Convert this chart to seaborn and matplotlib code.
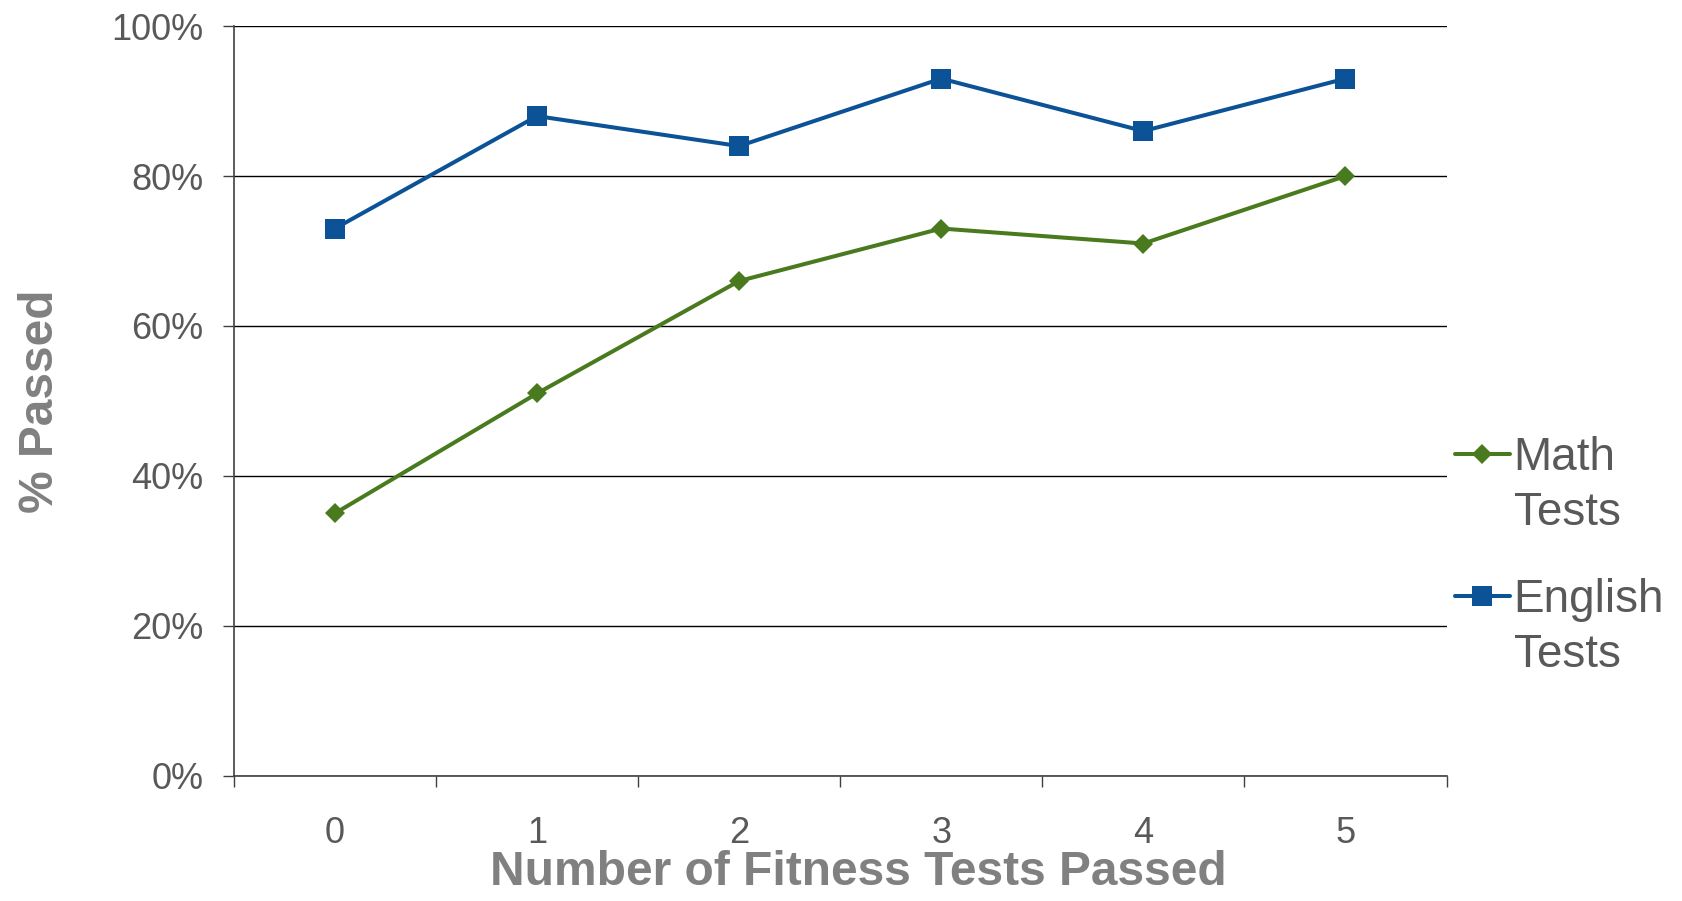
import seaborn as sns
import matplotlib.pyplot as plt
import pandas as pd

# Data
tests_passed = [0, 1, 2, 3, 4, 5]
math_pct = [35, 51, 66, 73, 71, 80]
english_pct = [73, 88, 84, 93, 86, 93]
y_ticks = [0, 20, 40, 60, 80, 100]

df = pd.DataFrame({'Tests': tests_passed, 'Math': math_pct, 'English': english_pct})

sns.set_style("white")
plt.rcParams['font.family'] = ['Liberation Sans', 'DejaVu Sans']

fig, ax = plt.subplots(figsize=(16.82, 9.01), dpi=100)
fig.subplots_adjust(left=0.139, right=0.860, top=0.971, bottom=0.139)

green = '#4a7a1e'
blue = '#0b5396'
text_gray = '#595959'
title_gray = '#808080'

sns.lineplot(data=df, x='Tests', y='Math', ax=ax, color=green, lw=2.9,
             marker='D', markersize=10.5, markeredgewidth=0, legend=False)
sns.lineplot(data=df, x='Tests', y='English', ax=ax, color=blue, lw=2.9,
             marker='s', markersize=14, markeredgewidth=0, legend=False)

# y axis
ax.set_ylim(0, 100)
ax.set_yticks(y_ticks)
ax.set_yticklabels([f'{v}%' for v in y_ticks])
ax.yaxis.grid(True, color='#000000', lw=1.0)
ax.tick_params(axis='y', left=True, length=8, width=1, color='#404040',
               labelsize=26, labelcolor=text_gray, pad=14)

# x axis: ticks between categories, labels centered
ax.set_xlim(-0.5, 5.5)
ax.set_xticks([x - 0.5 for x in tests_passed] + [5.5])
ax.set_xticklabels([])
ax.set_xticks(tests_passed, minor=True)
ax.set_xticklabels([str(x) for x in tests_passed], minor=True)
ax.tick_params(axis='x', which='major', bottom=True, length=8, width=1,
               color='#404040', direction='out')
ax.tick_params(axis='x', which='minor', bottom=True, length=0, labelsize=26,
               labelcolor=text_gray, pad=29)

for side in ['top', 'right']:
    ax.spines[side].set_visible(False)
for side in ['left', 'bottom']:
    ax.spines[side].set_color('#404040')
    ax.spines[side].set_linewidth(1.2)

ax.set_xlabel('Number of Fitness Tests Passed', fontsize=34.5, fontweight='bold',
              color=title_gray)
ax.set_ylabel('% Passed', fontsize=34.5, fontweight='bold', color=title_gray)
ax.xaxis.set_label_coords(0.515, -0.099)
ax.yaxis.set_label_coords(-0.141, 0.5)

# Legend: handle next to the first line of each two-line label
blank = plt.Line2D([], [], color='none')
math_h = plt.Line2D([], [], color=green, lw=2.9, marker='D', markersize=10.5,
                    markeredgewidth=0)
eng_h = plt.Line2D([], [], color=blue, lw=2.9, marker='s', markersize=14,
                   markeredgewidth=0)
leg_kw = dict(frameon=False, fontsize=33, handlelength=1.2, handletextpad=0.08,
              labelspacing=0.24, borderpad=0, borderaxespad=0, loc='upper left',
              bbox_transform=fig.transFigure, labelcolor=text_gray)
leg1 = ax.legend([math_h, blank], ['Math', 'Tests'],
                 bbox_to_anchor=(0.865, 0.516), **leg_kw)
ax.add_artist(leg1)
ax.legend([eng_h, blank], ['English', 'Tests'],
          bbox_to_anchor=(0.865, 0.358), **leg_kw)

plt.savefig('out.png', dpi=100)
